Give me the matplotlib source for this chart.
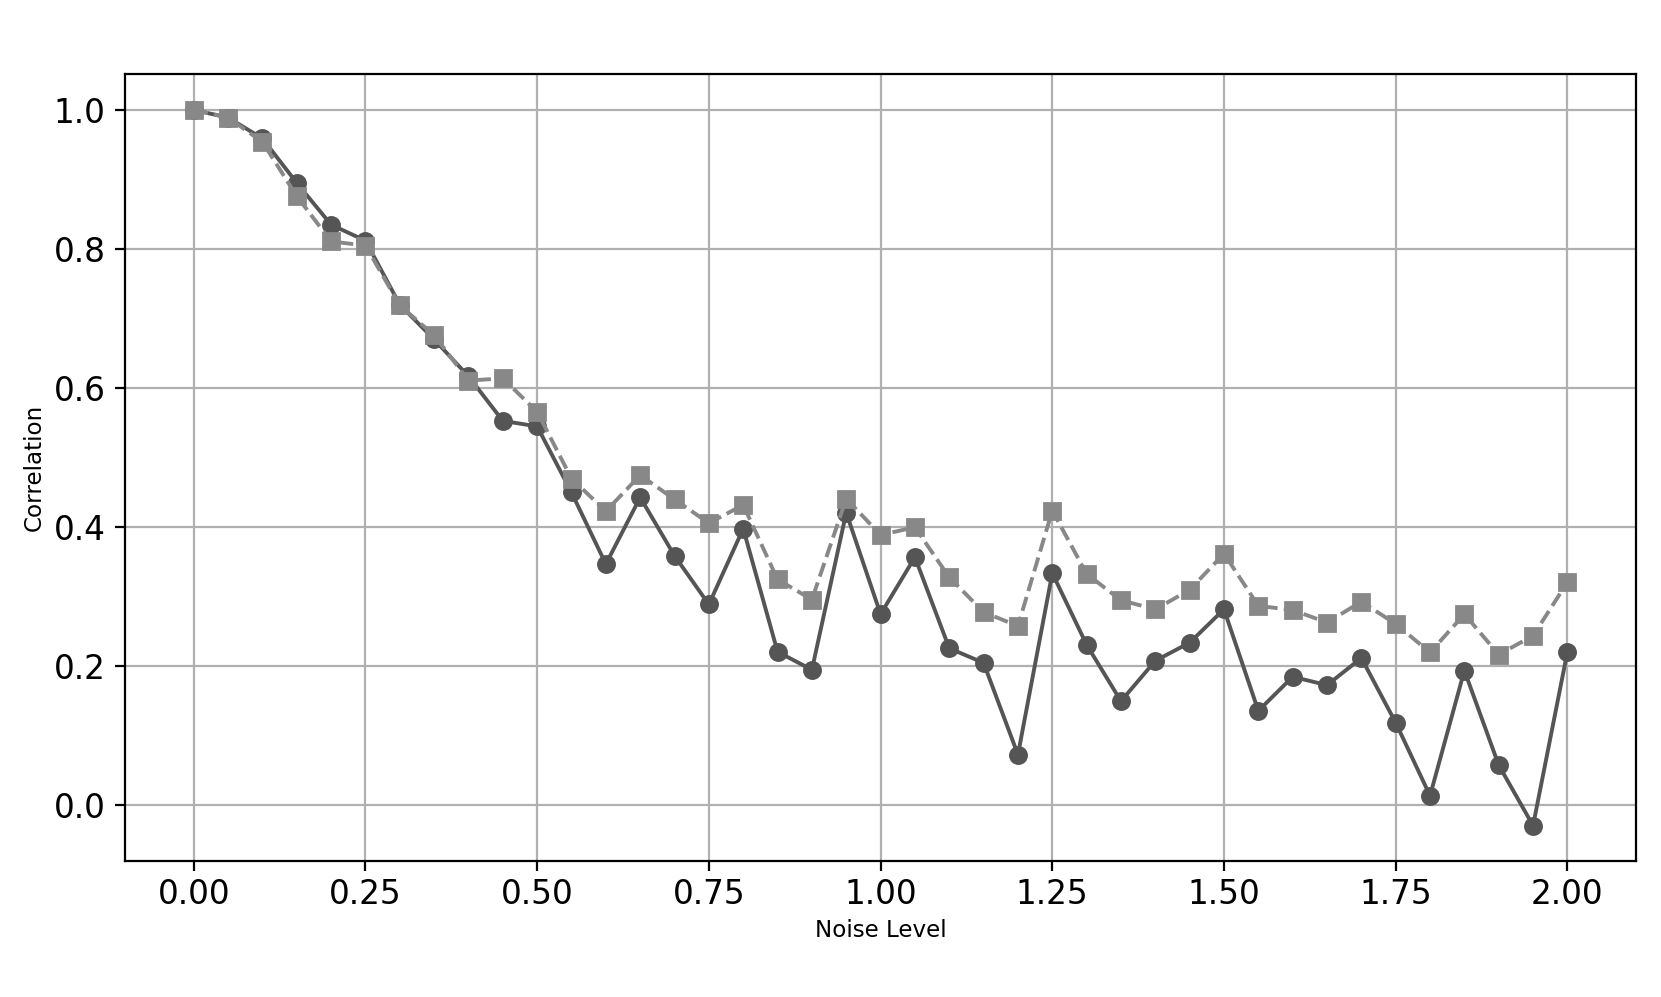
import numpy as np
import matplotlib
matplotlib.use("Agg")
import matplotlib.pyplot as plt

noise_levels = [round(0.05 * i, 2) for i in range(41)]

corr_solid = [1.0, 0.989, 0.959, 0.895, 0.835, 0.812, 0.72, 0.670, 0.617, 0.553,
              0.545, 0.450, 0.347, 0.443, 0.359, 0.289, 0.398, 0.221, 0.195, 0.421,
              0.275, 0.357, 0.226, 0.205, 0.073, 0.334, 0.231, 0.150, 0.208, 0.234,
              0.282, 0.136, 0.185, 0.173, 0.212, 0.119, 0.014, 0.194, 0.058, -0.029,
              0.221]

corr_dashed = [1.0, 0.989, 0.954, 0.876, 0.811, 0.805, 0.719, 0.676, 0.611, 0.614,
               0.566, 0.470, 0.423, 0.475, 0.440, 0.406, 0.432, 0.325, 0.296, 0.441,
               0.389, 0.400, 0.328, 0.278, 0.258, 0.424, 0.333, 0.295, 0.282, 0.310,
               0.362, 0.287, 0.281, 0.263, 0.293, 0.261, 0.220, 0.275, 0.217, 0.244,
               0.321]

fig = plt.figure(figsize=(8.305, 4.985), dpi=200)
ax = fig.add_axes([0.0753, 0.136, 0.9097, 0.7896])

ax.plot(noise_levels, corr_solid, color="#555555", linestyle="-", marker="o",
        markersize=5.8, linewidth=1.4)
ax.plot(noise_levels, corr_dashed, color="#888888", linestyle="--", marker="s",
        markersize=5.6, linewidth=1.4)

ax.grid(True, color="#b0b0b0", linewidth=0.8)
ax.set_axisbelow(True)
ax.set_xticks([0.0, 0.25, 0.5, 0.75, 1.0, 1.25, 1.5, 1.75, 2.0])
ax.set_yticks([0.0, 0.2, 0.4, 0.6, 0.8, 1.0])
ax.tick_params(labelsize=11.8)
ax.tick_params(axis="x", pad=2.5)
ax.set_xlabel("Noise Level", fontsize=8.3, labelpad=3)
ax.set_ylabel("Correlation", fontsize=8.3, labelpad=3)

fig.savefig("out.png", dpi=200)
